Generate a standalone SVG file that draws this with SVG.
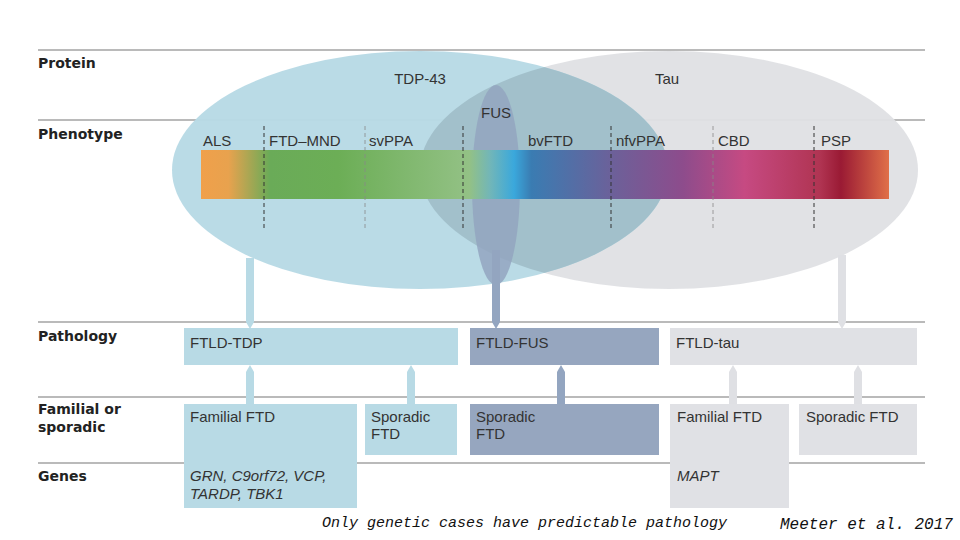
<svg xmlns="http://www.w3.org/2000/svg" width="960" height="540" viewBox="0 0 960 540">
<style>
.hl{stroke:#777;stroke-width:1.2}
.hd{font-family:"DejaVu Sans",sans-serif;font-weight:bold;font-size:14px;fill:#222}
.t{font-family:"Liberation Sans",sans-serif;font-size:15px;fill:#333}
.g{font-family:"Liberation Sans",sans-serif;font-size:15px;fill:#333;font-style:italic}
.dash{stroke:#333;stroke-width:1;stroke-dasharray:4,3}
.dashl{stroke:#888;stroke-width:0.8;stroke-dasharray:4,3}
.ft{font-family:"Liberation Mono",monospace;font-style:italic;font-size:15px;fill:#111}
</style>
<defs>
<linearGradient id="bar" x1="0" x2="1">
<stop offset="0" stop-color="#f0a04b"/><stop offset="0.04" stop-color="#e8a24e"/>
<stop offset="0.1" stop-color="#6aab58"/><stop offset="0.2" stop-color="#6cae56"/>
<stop offset="0.39" stop-color="#93c185"/><stop offset="0.42" stop-color="#72b6b8"/>
<stop offset="0.455" stop-color="#3aa8dc"/><stop offset="0.48" stop-color="#3a7cb2"/>
<stop offset="0.6" stop-color="#6d6099"/><stop offset="0.7" stop-color="#8d4c8c"/>
<stop offset="0.79" stop-color="#c64a82"/><stop offset="0.9" stop-color="#b03452"/>
<stop offset="0.93" stop-color="#9a1a34"/><stop offset="1" stop-color="#e07048"/>
</linearGradient>
<clipPath id="cb"><ellipse cx="420" cy="170" rx="248" ry="119"/></clipPath>
</defs>
<g id="lines">
<line class="hl" x1="38" y1="50" x2="925" y2="50"/>
<line class="hl" x1="38" y1="120" x2="925" y2="120"/>
<line class="hl" x1="38" y1="322" x2="925" y2="322"/>
<line class="hl" x1="38" y1="397" x2="925" y2="397"/>
<line class="hl" x1="38" y1="463" x2="925" y2="463"/>
</g>
<g id="headers">
<text class="hd" x="38" y="68">Protein</text>
<text class="hd" x="38" y="139">Phenotype</text>
<text class="hd" x="38" y="341">Pathology</text>
<text class="hd" x="38" y="414">Familial or</text>
<text class="hd" x="38" y="432">sporadic</text>
<text class="hd" x="38" y="481">Genes</text>
</g>
<g id="proteins">
<ellipse id="tau" cx="669" cy="170" rx="249" ry="119" fill="#dfe0e4" opacity="0.95"/>
<ellipse id="tdp43" cx="420" cy="170" rx="248" ry="119" fill="#b8dae5" opacity="0.97"/>
<ellipse cx="669" cy="170" rx="249" ry="119" fill="#a2c0cb" clip-path="url(#cb)"/>
<ellipse id="fus" cx="496" cy="185" rx="24" ry="100" fill="#93a5c0" opacity="0.85"/>
<text class="t" x="420" y="84" text-anchor="middle">TDP-43</text>
<text class="t" x="667" y="84" text-anchor="middle">Tau</text>
<text class="t" x="496" y="118" text-anchor="middle">FUS</text>
</g>
<g id="phenotype">
<rect x="201" y="150" width="688" height="49" fill="url(#bar)"/>
<line class="dash" x1="264" y1="126" x2="264" y2="228"/>
<line class="dashl" x1="365" y1="126" x2="365" y2="228"/>
<line class="dash" x1="463" y1="126" x2="463" y2="228"/>
<line class="dash" x1="611" y1="126" x2="611" y2="228"/>
<line class="dashl" x1="713" y1="126" x2="713" y2="228"/>
<line class="dash" x1="814" y1="126" x2="814" y2="228"/>
<text class="t" x="203" y="146">ALS</text>
<text class="t" x="269" y="146">FTD–MND</text>
<text class="t" x="369" y="146">svPPA</text>
<text class="t" x="528" y="146">bvFTD</text>
<text class="t" x="616" y="146">nfvPPA</text>
<text class="t" x="718" y="146">CBD</text>
<text class="t" x="821" y="146">PSP</text>
</g>
<g id="connectors">
<polygon points="246,258 254,258 254,322 250,329 246,322" fill="#b8dae5"/>
<polygon points="492,250 500,250 500,322 496,329 492,322" fill="#93a5c0"/>
<polygon points="838,255 846,255 846,322 842,329 838,322" fill="#dfe0e4"/>
<polygon points="246,404 254,404 254,372 250,365 246,372" fill="#b8dae5"/>
<polygon points="407,404 415,404 415,372 411,365 407,372" fill="#b8dae5"/>
<polygon points="557,404 565,404 565,372 561,365 557,372" fill="#93a5c0"/>
<polygon points="729,404 737,404 737,372 733,365 729,372" fill="#dfe0e4"/>
<polygon points="854,404 862,404 862,372 858,365 854,372" fill="#dfe0e4"/>
</g>
<g id="ftld-tdp"><rect x="184" y="328" width="274" height="37" fill="#b8dae5"/><text class="t" x="190" y="348">FTLD-TDP</text></g>
<g id="ftld-fus"><rect x="470" y="328" width="189" height="37" fill="#96a6bf"/><text class="t" x="476" y="348">FTLD-FUS</text></g>
<g id="ftld-tau"><rect x="670" y="328" width="247" height="37" fill="#e0e1e5"/><text class="t" x="676" y="348">FTLD-tau</text></g>
<g id="familial-tdp"><rect x="184" y="404" width="173" height="104" fill="#b8dae5"/><text class="t" x="190" y="422">Familial FTD</text>
<text class="g" x="190" y="481">GRN, C9orf72, VCP,</text><text class="g" x="190" y="499">TARDP, TBK1</text></g>
<g id="sporadic-tdp"><rect x="365" y="404" width="92" height="51" fill="#b8dae5"/><text class="t" x="371" y="422">Sporadic</text><text class="t" x="371" y="439">FTD</text></g>
<g id="sporadic-fus"><rect x="470" y="404" width="189" height="51" fill="#96a6bf"/><text class="t" x="476" y="422">Sporadic</text><text class="t" x="476" y="439">FTD</text></g>
<g id="familial-tau"><rect x="670" y="404" width="119" height="104" fill="#e0e1e5"/><text class="t" x="677" y="422">Familial FTD</text><text class="g" x="677" y="481">MAPT</text></g>
<g id="sporadic-tau"><rect x="799" y="404" width="118" height="51" fill="#e0e1e5"/><text class="t" x="806" y="422">Sporadic FTD</text></g>
<text class="ft" x="322" y="527">Only genetic cases have predictable pathology</text>
<text class="ft" x="780" y="529" style="font-size:16px">Meeter et al. 2017</text>
</svg>
